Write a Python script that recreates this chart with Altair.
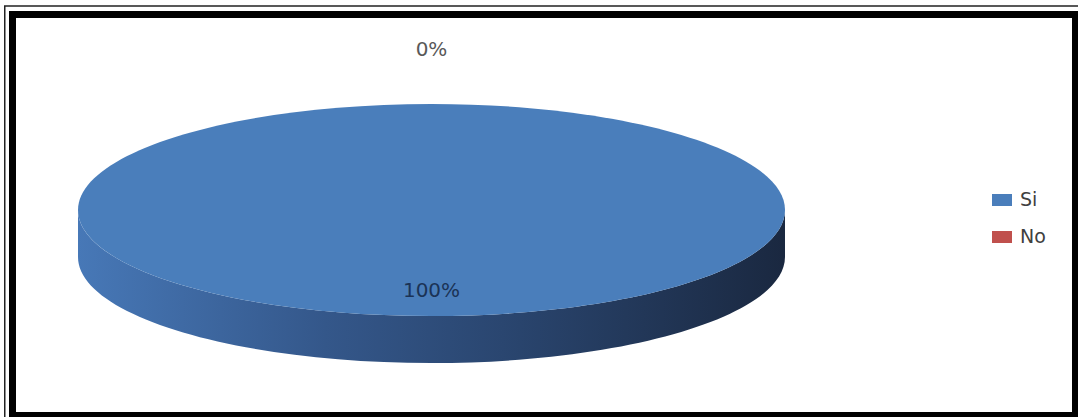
import math
import altair as alt
import pandas as pd

# ---- data ----
categories = ["Si", "No"]
values = [100, 0]
slice_colors = ["#4a7ebb", "#c0504d"]

# ---- style / layout constants ----
CX, CY = 431.5, 210.0          # pie centre (pixels)
RX = 353.5                     # half width of the pie
K = 106.0 / RX                 # vertical squash of the 3D pie
D = 47.0 / RX                  # depth of the 3D side
SIZE = (2 * RX) ** 2           # symbol size -> width 2*RX


def pt(a, dy=0.0):
    return f"{math.sin(a):.5f},{(-K * math.cos(a) + dy):.5f}"


def top_path(a0, a1):
    span = a1 - a0
    if span <= 1e-9:
        return None
    if span >= 2 * math.pi - 1e-9:
        return (f"M0,{-K:.5f}A1,{K:.5f} 0 1,1 0,{K:.5f}"
                f"A1,{K:.5f} 0 1,1 0,{-K:.5f}Z")
    large = 1 if span > math.pi else 0
    return f"M0,0L{pt(a0)}A1,{K:.5f} 0 {large},1 {pt(a1)}Z"


def side_path(a0, a1):
    b0 = max(a0, math.pi / 2)
    b1 = min(a1, 3 * math.pi / 2)
    if b1 - b0 <= 1e-9:
        return None
    return (f"M{pt(b0)}A1,{K:.5f} 0 0,1 {pt(b1)}"
            f"L{pt(b1, D)}A1,{K:.5f} 0 0,0 {pt(b0, D)}Z")


total = float(sum(values))
rows = []
acc = 0.0
for c, v in zip(categories, values):
    frac = v / total
    a0 = acc * 2 * math.pi
    a1 = (acc + frac) * 2 * math.pi
    acc += frac
    mid = (a0 + a1) / 2
    f = 1.51 if frac < 0.05 else 0.765
    rows.append({
        "cat": c,
        "val": v,
        "frac": frac,
        "top": top_path(a0, a1),
        "side": side_path(a0, a1),
        "lx": CX + math.sin(mid) * RX * K * f,
        "ly": CY - math.cos(mid) * RX * K * f,
    })
df = pd.DataFrame(rows)
df_top = df[df["top"].notna()]
df_side = df[df["side"].notna()]

color_scale = alt.Scale(domain=categories, range=slice_colors)

side = alt.Chart(df_side).mark_point(
    filled=True, opacity=1, strokeWidth=0,
    fill=alt.Gradient(
        gradient="linear", x1=0, x2=1, y1=0, y2=0,
        stops=[alt.GradientStop(color="#4778b7", offset=0),
               alt.GradientStop(color="#34578a", offset=0.35),
               alt.GradientStop(color="#2a4670", offset=0.6),
               alt.GradientStop(color="#1a2840", offset=1)],
    ),
).encode(
    x=alt.value(CX), y=alt.value(CY), size=alt.value(SIZE),
    shape=alt.Shape("side:N", scale=None, legend=None),
)

top = alt.Chart(df_top).mark_point(
    filled=True, opacity=1, strokeWidth=0,
).encode(
    x=alt.value(CX), y=alt.value(CY), size=alt.value(SIZE),
    shape=alt.Shape("top:N", scale=None, legend=None),
    color=alt.Color(
        "cat:N", scale=color_scale, sort=categories,
        legend=alt.Legend(
            title=None, orient="none", legendX=992, legendY=190,
            symbolType="M-1,-0.6H1V0.6H-1Z", symbolSize=400,
            symbolStrokeWidth=0, symbolOpacity=1,
            labelFont="DejaVu Sans", labelFontSize=19, labelColor="#404040",
            labelOffset=8, rowPadding=17, padding=0,
        ),
    ),
)

labels = alt.Chart(df).mark_text(
    font="DejaVu Sans", fontSize=20, baseline="middle", align="center",
).encode(
    x=alt.X("lx:Q", scale=None, axis=None),
    y=alt.Y("ly:Q", scale=None, axis=None),
    text=alt.Text("frac:Q", format=".0%"),
    color=alt.condition("datum.frac < 0.05", alt.value("#595959"), alt.value("#1b3356")),
)

deco = alt.Data(values=[{"k": 1}])
outer = alt.Chart(deco).mark_rect(
    fill=None, stroke="#222222", strokeWidth=1.5,
).encode(x=alt.value(4.75), x2=alt.value(1100), y=alt.value(6.0), y2=alt.value(440))
inner = alt.Chart(deco).mark_rect(
    fill=None, stroke="#000000", strokeWidth=7,
).encode(x=alt.value(12.5), x2=alt.value(1075.5), y=alt.value(14.5), y2=alt.value(415.5))

chart = alt.layer(side, top, labels, outer, inner).properties(
    width=1078, height=417,
    autosize=alt.AutoSizeParams(type="none"),
    padding=0,
    background="white",
).configure_view(stroke=None)

chart.save("out.html", embed_options={"renderer": "svg", "actions": False})
